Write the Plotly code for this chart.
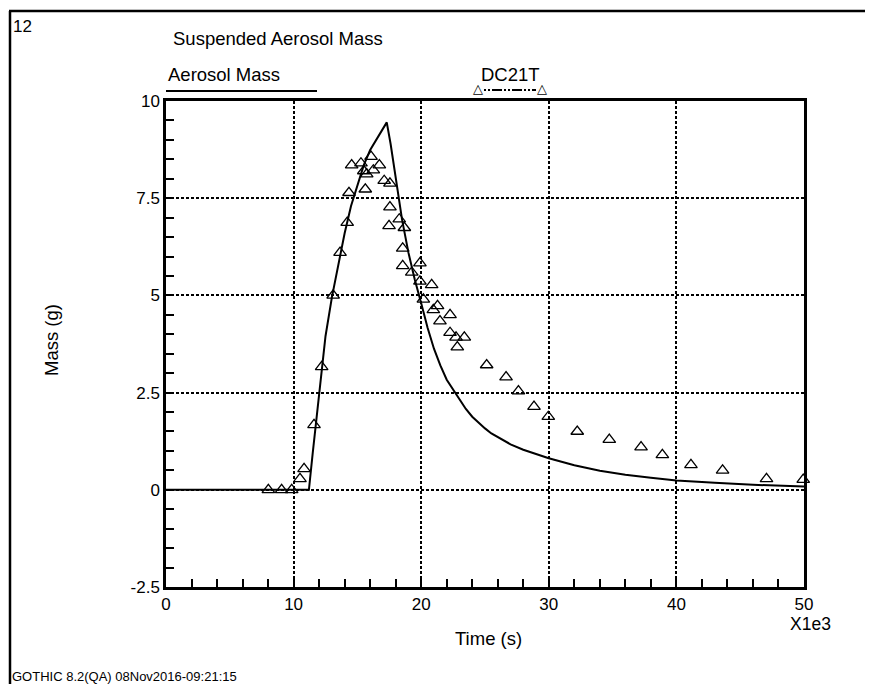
import plotly.graph_objects as go

# ---- data ----
calc_time = [0, 11.2, 11.5, 12.0, 12.5, 13.0, 13.5, 14.0, 14.5, 15.0, 15.5, 16.0, 16.5, 17.0, 17.3,
             17.6, 18.0, 18.5, 19.0, 19.5, 20.0, 20.5, 21.0, 21.5, 22.0, 22.65, 23.0, 23.5, 24.0,
             24.5, 25.0, 25.5, 26.0, 27.0, 28.0, 29.0, 30.0, 31.0, 32.0, 34.0, 36.0, 38.0, 40.0,
             43.0, 46.0, 50.0]
calc_mass = [0, 0, 0.95, 2.5, 3.95, 4.95, 5.8, 6.6, 7.3, 7.85, 8.35, 8.74, 9.02, 9.3, 9.45,
             8.9, 8.0, 6.95, 6.1, 5.4, 4.8, 4.17, 3.63, 3.2, 2.83, 2.49, 2.31, 2.08, 1.88,
             1.72, 1.58, 1.45, 1.35, 1.17, 1.03, 0.91, 0.81, 0.72, 0.63, 0.49, 0.39, 0.31, 0.24,
             0.18, 0.13, 0.085]

test_time = [8.02, 9.06, 9.85, 10.5, 10.82, 11.6, 12.2, 13.1, 13.64, 14.2, 14.34, 14.55, 15.28,
             15.5, 15.62, 15.73, 16.07, 16.25, 16.72, 17.1, 17.55, 17.55, 17.48, 18.28, 18.68,
             18.55, 18.55, 19.26, 19.9, 19.9, 20.17, 20.82, 20.95, 21.28, 21.47, 22.26, 22.26,
             22.73, 23.38, 22.83, 25.13, 26.65, 27.62, 28.84, 29.96, 32.23, 34.74, 37.23, 38.9,
             41.14, 43.62, 47.06, 49.94]
test_mass = [0, 0, 0, 0.28, 0.54, 1.67, 3.16, 5.0, 6.1, 6.87, 7.64, 8.35, 8.4,
             8.2, 7.73, 8.12, 8.57, 8.22, 8.35, 7.95, 7.88, 7.27, 6.79, 6.96, 6.74,
             6.21, 5.76, 5.59, 5.83, 5.36, 4.9, 5.27, 4.63, 4.73, 4.34, 4.5, 4.04,
             3.92, 3.92, 3.67, 3.21, 2.9, 2.54, 2.14, 1.88, 1.5, 1.29, 1.1, 0.9,
             0.64, 0.5, 0.28, 0.26]

x_ticks = [0, 10, 20, 30, 40, 50]
y_ticks = [-2.5, 0, 2.5, 5, 7.5, 10]
y_tick_labels = ["-2.5", "0", "2.5", "5", "7.5", "10"]

FONT = "Liberation Sans, Arial, sans-serif"

fig = go.Figure()
fig.add_trace(go.Scatter(x=calc_time, y=calc_mass, mode="lines",
                         line=dict(color="black", width=2),
                         name="Aerosol Mass", showlegend=False))
fig.add_trace(go.Scatter(x=test_time, y=test_mass, mode="markers",
                         marker=dict(symbol="triangle-up-open", size=11, color="black",
                                     line=dict(width=1.3, color="black")),
                         name="DC21T", showlegend=False, cliponaxis=False))

fig.update_layout(
    width=873, height=684,
    margin=dict(l=158, r=77, t=93, b=105),
    paper_bgcolor="white", plot_bgcolor="white",
    font=dict(family=FONT, color="black", size=17),
    showlegend=False,
)
fig.update_xaxes(range=[0, 50], tickvals=x_ticks, ticks="inside", ticklen=8, tickwidth=2,
                 tickcolor="black", showline=True, linecolor="black", linewidth=2.5, mirror=True,
                 showgrid=True, gridcolor="black", gridwidth=2, griddash="3px,2px",
                 zeroline=False, tickfont=dict(size=17),
                 minor=dict(dtick=2, ticks="inside", ticklen=8, tickwidth=2, tickcolor="black",
                            showgrid=False))
fig.update_yaxes(range=[-2.5, 10], tickvals=y_ticks, ticktext=y_tick_labels, ticks="inside",
                 ticklen=8, tickwidth=2, tickcolor="black", showline=True, linecolor="black",
                 linewidth=2.5, mirror=True, showgrid=True, gridcolor="black", gridwidth=2,
                 griddash="3px,2px", zeroline=False, tickfont=dict(size=17),
                 minor=dict(dtick=0.5, ticks="inside", ticklen=8, tickwidth=2, tickcolor="black",
                            showgrid=False))

def px_x(p):
    return (p - 166) / 638.0

def px_y(p):
    return (587 - p) / 486.0

ann = []
ann.append(dict(text="12", x=px_x(11), y=px_y(27), xanchor="left", yanchor="middle", font=dict(size=17)))
ann.append(dict(text="Suspended Aerosol Mass", x=px_x(171), y=px_y(38), xanchor="left", yanchor="middle", font=dict(size=18.5)))
ann.append(dict(text="Aerosol Mass", x=px_x(166), y=px_y(75), xanchor="left", yanchor="middle", font=dict(size=18.5)))
ann.append(dict(text="DC21T", x=px_x(510), y=px_y(75), xanchor="center", yanchor="middle", font=dict(size=18.5)))
ann.append(dict(text="X1e3", x=px_x(810), y=px_y(624), xanchor="center", yanchor="middle", font=dict(size=17.5)))
ann.append(dict(text="Time (s)", x=px_x(488), y=px_y(638), xanchor="center", yanchor="middle", font=dict(size=18.5)))
ann.append(dict(text="Mass (g)", x=px_x(51), y=px_y(340), xanchor="center", yanchor="middle", textangle=-90, font=dict(size=18.5)))
ann.append(dict(text="GOTHIC 8.2(QA) 08Nov2016-09:21:15", x=px_x(10), y=px_y(676), xanchor="left", yanchor="middle", font=dict(size=13)))
for p in (478, 542):
    ann.append(dict(text="△", x=px_x(p), y=px_y(89), xanchor="center", yanchor="middle",
                    font=dict(size=13, family="DejaVu Sans")))
for a in ann:
    a.update(xref="paper", yref="paper", showarrow=False)
fig.update_layout(annotations=ann)

shapes = [
    dict(type="line", x0=px_x(166), x1=px_x(317), y0=px_y(91), y1=px_y(91), line=dict(color="black", width=2)),
    dict(type="line", x0=px_x(484), x1=px_x(536), y0=px_y(90), y1=px_y(90), line=dict(color="black", width=2, dash="2px,2px,2px,2px,10px,2px")),
    dict(type="line", x0=px_x(10), x1=px_x(10), y0=px_y(11), y1=px_y(700), line=dict(color="black", width=2.5)),
    dict(type="line", x0=px_x(9), x1=px_x(880), y0=px_y(11), y1=px_y(11), line=dict(color="black", width=2.5)),
]
for s in shapes:
    s.update(xref="paper", yref="paper")
fig.update_layout(shapes=shapes)

fig.write_html("out.html")
